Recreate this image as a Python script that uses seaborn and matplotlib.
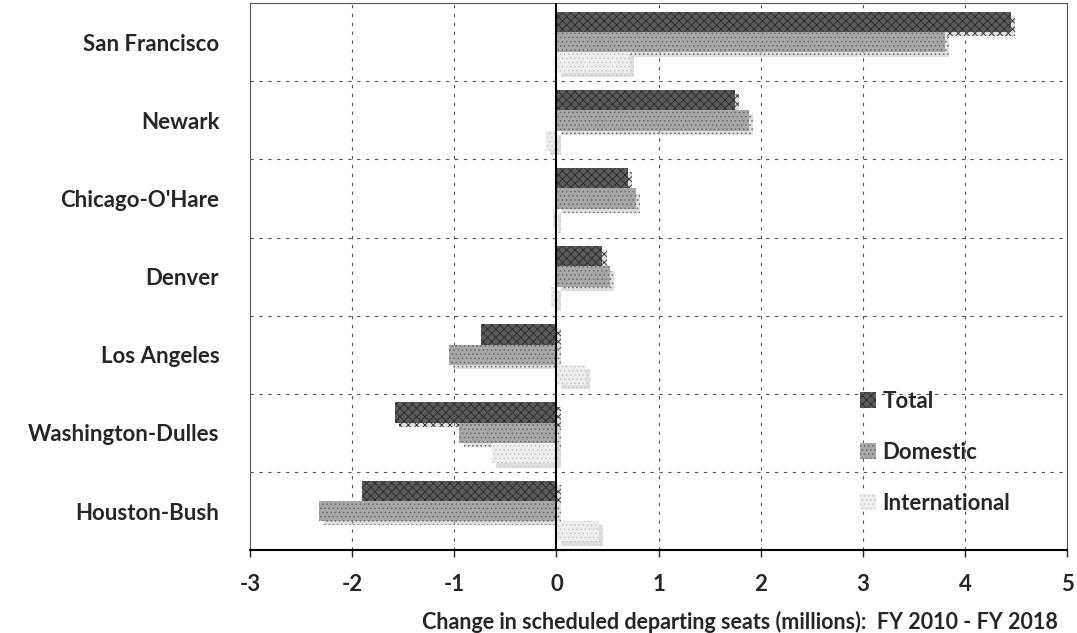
import numpy as np
import pandas as pd
import seaborn as sns
import matplotlib.pyplot as plt
import matplotlib.patheffects as pe
from matplotlib.patches import Patch

airports = ['San Francisco', 'Newark', "Chicago-O'Hare", 'Denver',
            'Los Angeles', 'Washington-Dulles', 'Houston-Bush']
total = [4.45, 1.75, 0.70, 0.45, -0.74, -1.58, -1.90]
domestic = [3.80, 1.88, 0.78, 0.52, -1.05, -0.95, -2.32]
international = [0.72, -0.10, -0.03, -0.05, 0.29, -0.63, 0.42]
series = ['Total', 'Domestic', 'International']

df = pd.DataFrame({
    'airport': airports * 3,
    'value': total + domestic + international,
    'type': sum([[s] * len(airports) for s in series], []),
})

sns.set_style('white')
plt.rcParams['font.family'] = ['Lato', 'DejaVu Sans']
plt.rcParams['hatch.linewidth'] = 0.6

fig = plt.figure(figsize=(10.77, 6.33), dpi=100)
ax = fig.add_axes([0.232, 0.131, 0.759, 0.864])

colors = {'Total': '#5a5a5a', 'Domestic': '#a8a8a8', 'International': '#eeeeee'}
hatches = {'Total': 'xxxx', 'Domestic': '....', 'International': '....'}
hatch_col = {'Total': '#2a2a2a', 'Domestic': '#6a6a6a', 'International': '#c8c8c8'}

sns.barplot(data=df, y='airport', x='value', hue='type', orient='h',
            order=airports, hue_order=series, palette=colors,
            width=0.78, ax=ax, legend=False, edgecolor='none')

shadow = [pe.SimplePatchShadow(offset=(3, -3), shadow_rgbFace='#b0b0b0', alpha=0.4), pe.Normal()]
for cont, s in zip(ax.containers, series):
    for bar in cont:
        bar.set_hatch(hatches[s])
        bar.set_edgecolor(hatch_col[s])
        bar.set_linewidth(0)
        bar.set_path_effects(shadow)

ax.set_xlim(-3, 5)
ax.set_ylim(6.5, -0.5)
ax.set_xticks(range(-3, 6))
ax.set_xticklabels([str(v) for v in range(-3, 6)], fontsize=16, fontweight='bold')
ax.tick_params(axis='x', length=5, width=1, direction='out', pad=12, bottom=True)
ax.tick_params(axis='y', length=0, pad=22)
for lab in ax.get_yticklabels():
    lab.set_fontsize(16)
    lab.set_fontweight('bold')
ax.set_ylabel('')
ax.set_xlabel('Change in scheduled departing seats (millions):  FY 2010 - FY 2018',
              fontsize=15.5, fontweight='bold', labelpad=12, x=0.60)

for xv in [-2, -1, 1, 2, 3, 4]:
    ax.axvline(xv, color='#555555', lw=0.8, ls=(0, (3, 5)), zorder=0)
for yv in np.arange(0.5, 6.5, 1):
    ax.axhline(yv, color='#555555', lw=0.8, ls=(0, (3, 5)), zorder=0)
ax.axvline(0, color='black', lw=1.5, zorder=3)

for side in ['top', 'right', 'left']:
    ax.spines[side].set_color('#555555')
    ax.spines[side].set_linewidth(0.8)
    ax.spines[side].set_linestyle((0, (2, 1)))
ax.spines['bottom'].set_color('black')
ax.spines['bottom'].set_linewidth(1.5)

handles = [Patch(facecolor=colors[s], edgecolor=hatch_col[s], hatch=hatches[s], linewidth=0)
           for s in series]
ax.legend(handles, series, loc='lower left', bbox_to_anchor=(0.722, 0.03),
          frameon=False, prop={'family': 'Lato', 'weight': 'bold', 'size': 16},
          handlelength=0.7, handleheight=0.7, handletextpad=0.3, labelspacing=1.35)

fig.savefig('out.png', dpi=100)
